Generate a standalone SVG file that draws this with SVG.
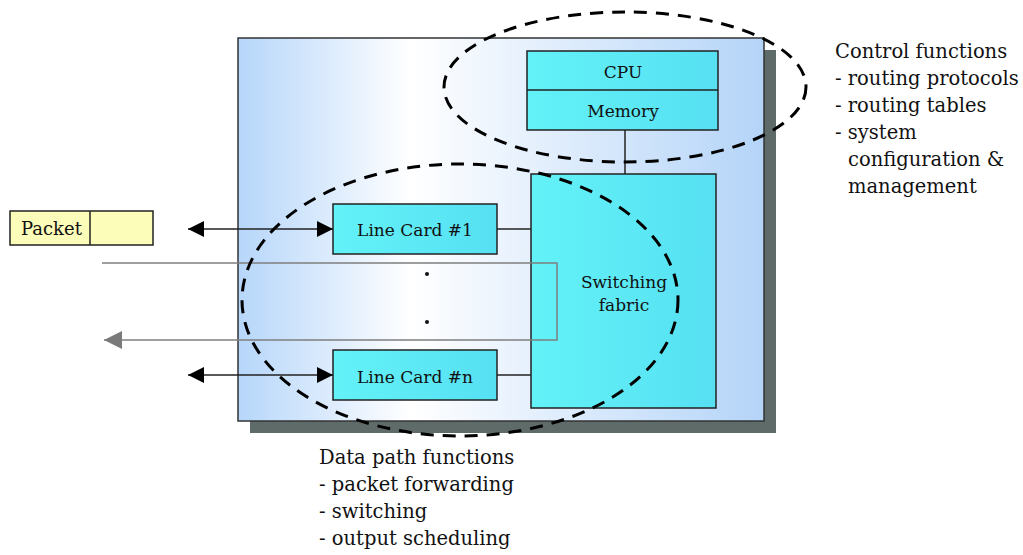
<svg xmlns="http://www.w3.org/2000/svg" width="1023" height="555" viewBox="0 0 1023 555">
<defs>
<linearGradient id="bg" x1="0" y1="0" x2="1" y2="0">
<stop offset="0" stop-color="#b6d6fa"/>
<stop offset="0.33" stop-color="#ffffff"/>
<stop offset="1" stop-color="#b4d4f8"/>
</linearGradient>
<linearGradient id="cy" x1="0" y1="0" x2="1" y2="0">
<stop offset="0" stop-color="#63f2f8"/>
<stop offset="1" stop-color="#56e0f2"/>
</linearGradient>
<marker id="ah" viewBox="0 0 10 10" refX="10" refY="5" markerWidth="16" markerHeight="16" markerUnits="userSpaceOnUse" orient="auto-start-reverse">
<path d="M0,0 L10,5 L0,10 z" fill="#000"/>
</marker>
<marker id="ahg" viewBox="0 0 10 10" refX="10" refY="5" markerWidth="18" markerHeight="18" markerUnits="userSpaceOnUse" orient="auto">
<path d="M0,0 L10,5 L0,10 z" fill="#7a7a7a"/>
</marker>
<style>
text{font-family:"DejaVu Serif","Liberation Serif",serif;fill:#111;}
.box{fill:url(#cy);stroke:#222;stroke-width:1.5;}
.ln{stroke:#222;stroke-width:1.5;fill:none;}
.dash{fill:none;stroke:#000;stroke-width:3;stroke-dasharray:13 9;}
.lbl{font-size:17px;text-anchor:middle;}
.note{font-size:19.5px;}
</style>
</defs>

<g id="router">
<rect x="250" y="50" width="526" height="383" fill="#5f6b69"/>
<rect x="238" y="38" width="526" height="383" fill="url(#bg)" stroke="#333" stroke-width="1.5"/>
</g>

<g id="packet">
<rect x="10" y="211" width="143" height="34" fill="#fbfdb8" stroke="#222" stroke-width="1.5"/>
<line x1="90" y1="211" x2="90" y2="245" class="ln"/>
<text x="21" y="235" font-size="18">Packet</text>
</g>

<g id="cpu">
<rect x="527" y="51" width="191" height="79" class="box"/>
<line x1="527" y1="90" x2="718" y2="90" class="ln"/>
<text x="623" y="78" class="lbl">CPU</text>
<text x="623" y="117" class="lbl">Memory</text>
</g>

<g id="fabric">
<rect x="531" y="174" width="185" height="234" class="box"/>
<text x="624" y="288" class="lbl">Switching</text>
<text x="624" y="311" class="lbl">fabric</text>
</g>

<g id="linecard1">
<rect x="333" y="204" width="164" height="50" class="box"/>
<text x="415" y="236" class="lbl">Line Card #1</text>
</g>

<g id="linecardn">
<rect x="333" y="350" width="164" height="50" class="box"/>
<text x="415" y="383" class="lbl">Line Card #n</text>
</g>

<g id="connectors">
<line x1="625" y1="130" x2="625" y2="174" class="ln"/>
<line x1="497" y1="229" x2="531" y2="229" class="ln"/>
<line x1="497" y1="375" x2="531" y2="375" class="ln"/>
<line x1="188" y1="229" x2="333" y2="229" class="ln" marker-start="url(#ah)" marker-end="url(#ah)"/>
<line x1="188" y1="375" x2="333" y2="375" class="ln" marker-start="url(#ah)" marker-end="url(#ah)"/>
<polyline points="102,263 557,263 557,340 104,340" fill="none" stroke="#7f7f7f" stroke-width="1.5" marker-end="url(#ahg)"/>
</g>

<g id="dots">
<circle cx="427" cy="274" r="2" fill="#111"/>
<circle cx="427" cy="322" r="2" fill="#111"/>
</g>

<g id="control-region">
<ellipse cx="625" cy="87" rx="181" ry="75" class="dash"/>
</g>
<g id="data-region">
<ellipse cx="460" cy="300" rx="218" ry="136" class="dash"/>
</g>

<g id="control-notes">
<text class="note" x="835" y="58">Control functions</text>
<text class="note" x="835" y="85">- routing protocols</text>
<text class="note" x="835" y="112">- routing tables</text>
<text class="note" x="835" y="139">- system</text>
<text class="note" x="848" y="166">configuration &amp;</text>
<text class="note" x="848" y="193">management</text>
</g>

<g id="data-notes">
<text class="note" x="319" y="464">Data path functions</text>
<text class="note" x="319" y="491">- packet forwarding</text>
<text class="note" x="319" y="518">- switching</text>
<text class="note" x="319" y="545">- output scheduling</text>
</g>
</svg>
